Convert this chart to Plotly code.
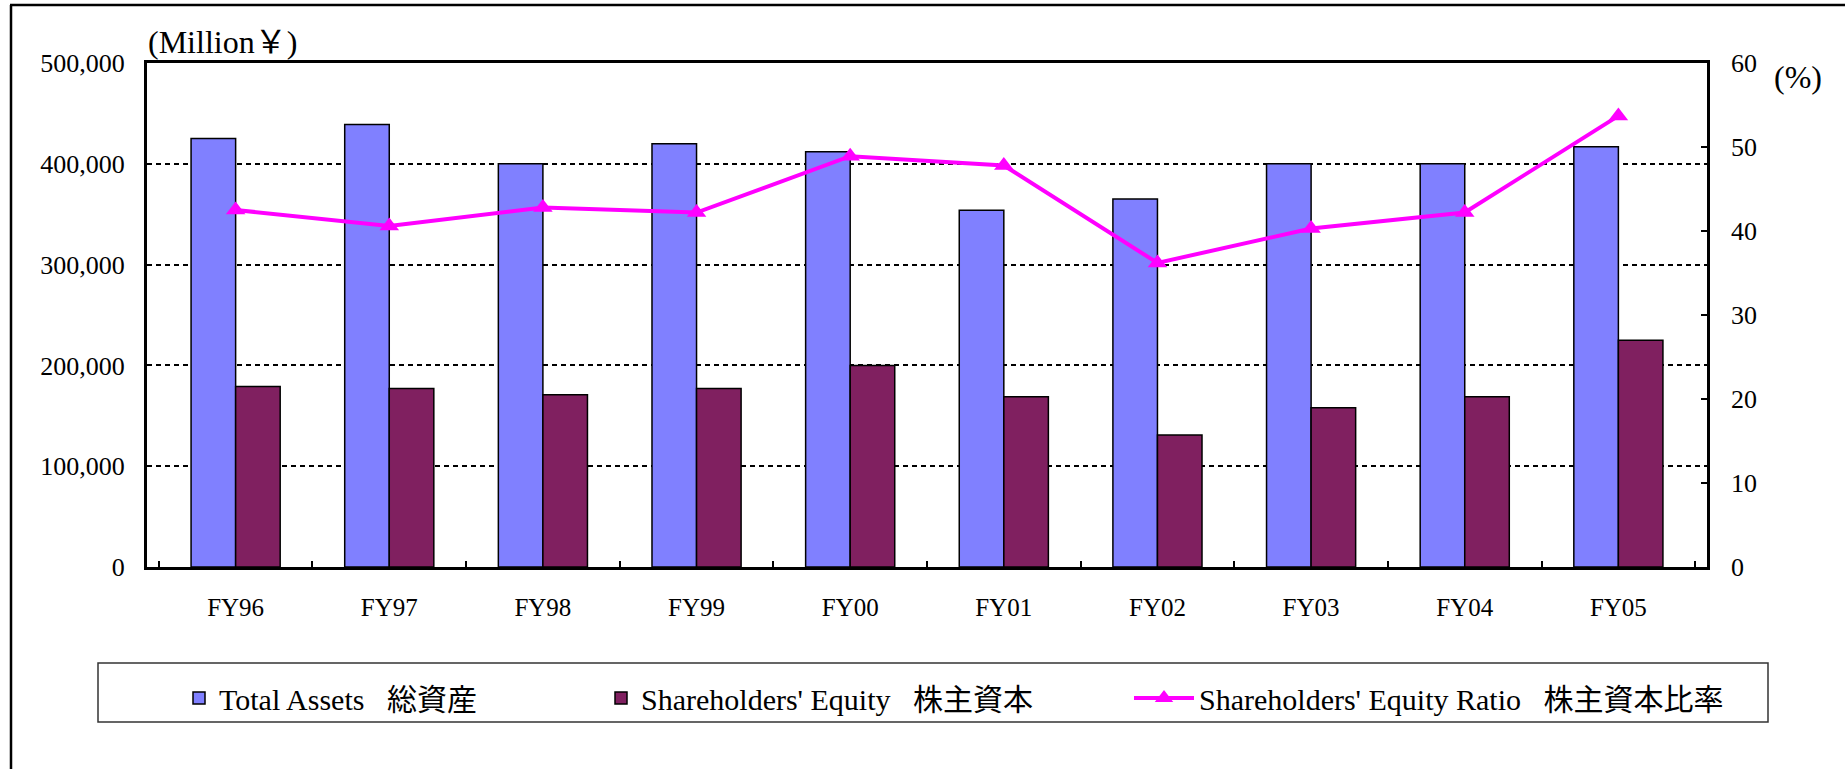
import plotly.graph_objects as go

categories = ["FY96", "FY97", "FY98", "FY99", "FY00", "FY01", "FY02", "FY03", "FY04", "FY05"]
total_assets = [425000, 439000, 400000, 420000, 412000, 354000, 365000, 400000, 400000, 417000]
equity = [179000, 177000, 171000, 177000, 200000, 169000, 131000, 158000, 169000, 225000]
equity_ratio = [42.5, 40.6, 42.8, 42.2, 48.9, 47.8, 36.2, 40.3, 42.2, 53.7]

name_assets = "Total Assets\u00a0\u00a0 総資産"
name_equity = "Shareholders' Equity\u00a0\u00a0 株主資本"
name_ratio = "Shareholders' Equity Ratio\u00a0\u00a0 株主資本比率"

W, H = 1845, 769
L, R, T, B = 147, 1707, 63, 567  # plot area in page pixels
PW, PH = R - L, B - T

def px(x):
    return (x - L) / PW

def py(y):
    return (B - y) / PH

FONT = "Liberation Serif, Noto Sans CJK JP"
SERIF = "Liberation Serif"

fig = go.Figure()
fig.add_trace(go.Bar(x=categories, y=total_assets, name=name_assets,
                     marker=dict(color="#8080FF", line=dict(color="black", width=1.5)),
                     legend="legend", showlegend=True))
fig.add_trace(go.Bar(x=categories, y=equity, name=name_equity,
                     marker=dict(color="#802060", line=dict(color="black", width=1.5)),
                     legend="legend2", showlegend=True))
fig.add_trace(go.Scatter(x=categories, y=equity_ratio, name=name_ratio, yaxis="y2",
                         mode="lines+markers",
                         line=dict(color="#FF00FF", width=4),
                         marker=dict(symbol="triangle-up", size=17, color="#FF00FF"),
                         legend="legend3", showlegend=True))

legend_common = dict(orientation="h", yanchor="middle", y=py(698), xanchor="left",
                     font=dict(family=FONT, size=30, color="black"),
                     bgcolor="rgba(0,0,0,0)", borderwidth=0)

fig.update_layout(
    width=W, height=H,
    margin=dict(l=L, r=W - R, t=T, b=H - B, pad=0, autoexpand=False),
    paper_bgcolor="white", plot_bgcolor="white",
    showlegend=True,
    barmode="group", bargap=0.42, bargroupgap=0,
    font=dict(family=SERIF, size=25, color="black"),
    xaxis=dict(type="category", showline=True, linecolor="black", linewidth=3, mirror=True,
               ticks="inside", tickson="boundaries", ticklen=6, tickwidth=2, tickcolor="black",
               showgrid=False, ticklabelstandoff=16, automargin=False,
               tickfont=dict(family=SERIF, size=25, color="black")),
    yaxis=dict(range=[0, 500000], dtick=100000, tickformat=",d",
               showline=True, linecolor="black", linewidth=3,
               ticks="inside", ticklen=5, tickwidth=2, tickcolor="black",
               showgrid=True, gridcolor="black", gridwidth=1.5, griddash="5px,4px",
               zeroline=False, ticklabelstandoff=14, automargin=False,
               tickfont=dict(family=SERIF, size=26, color="black")),
    yaxis2=dict(range=[0, 60], dtick=10, overlaying="y", side="right",
                showline=True, linecolor="black", linewidth=2.5,
                ticks="inside", ticklen=6, tickwidth=2, tickcolor="black",
                showgrid=False, zeroline=False, ticklabelstandoff=16, automargin=False,
                tickfont=dict(family=SERIF, size=26, color="black")),
    legend=dict(x=px(179), **legend_common),
    legend2=dict(x=px(601), **legend_common),
    legend3=dict(x=px(1129), itemwidth=60, **legend_common),
    annotations=[
        dict(text="(Million￥)", xref="paper", yref="paper", x=px(146), y=py(42),
             xanchor="left", yanchor="middle", showarrow=False,
             font=dict(family=FONT, size=32, color="black")),
        dict(text="(%)", xref="paper", yref="paper", x=px(1798), y=py(77),
             xanchor="center", yanchor="middle", showarrow=False,
             font=dict(family=SERIF, size=32, color="black")),
    ],
    shapes=[
        dict(type="rect", xref="paper", yref="paper", x0=px(98), x1=px(1768),
             y0=py(663), y1=py(722), line=dict(color="#333333", width=1.5),
             fillcolor="rgba(0,0,0,0)", layer="above"),
        dict(type="line", xref="paper", yref="paper", x0=px(10), x1=px(1850),
             y0=py(5), y1=py(5), line=dict(color="black", width=2.5)),
        dict(type="line", xref="paper", yref="paper", x0=px(11), x1=px(11),
             y0=py(5), y1=py(775), line=dict(color="black", width=2.5)),
    ],
)

fig.write_html("out.html",
               config={"displayModeBar": False},
               post_script="document.body.style.margin='0';document.body.style.padding='0';")
